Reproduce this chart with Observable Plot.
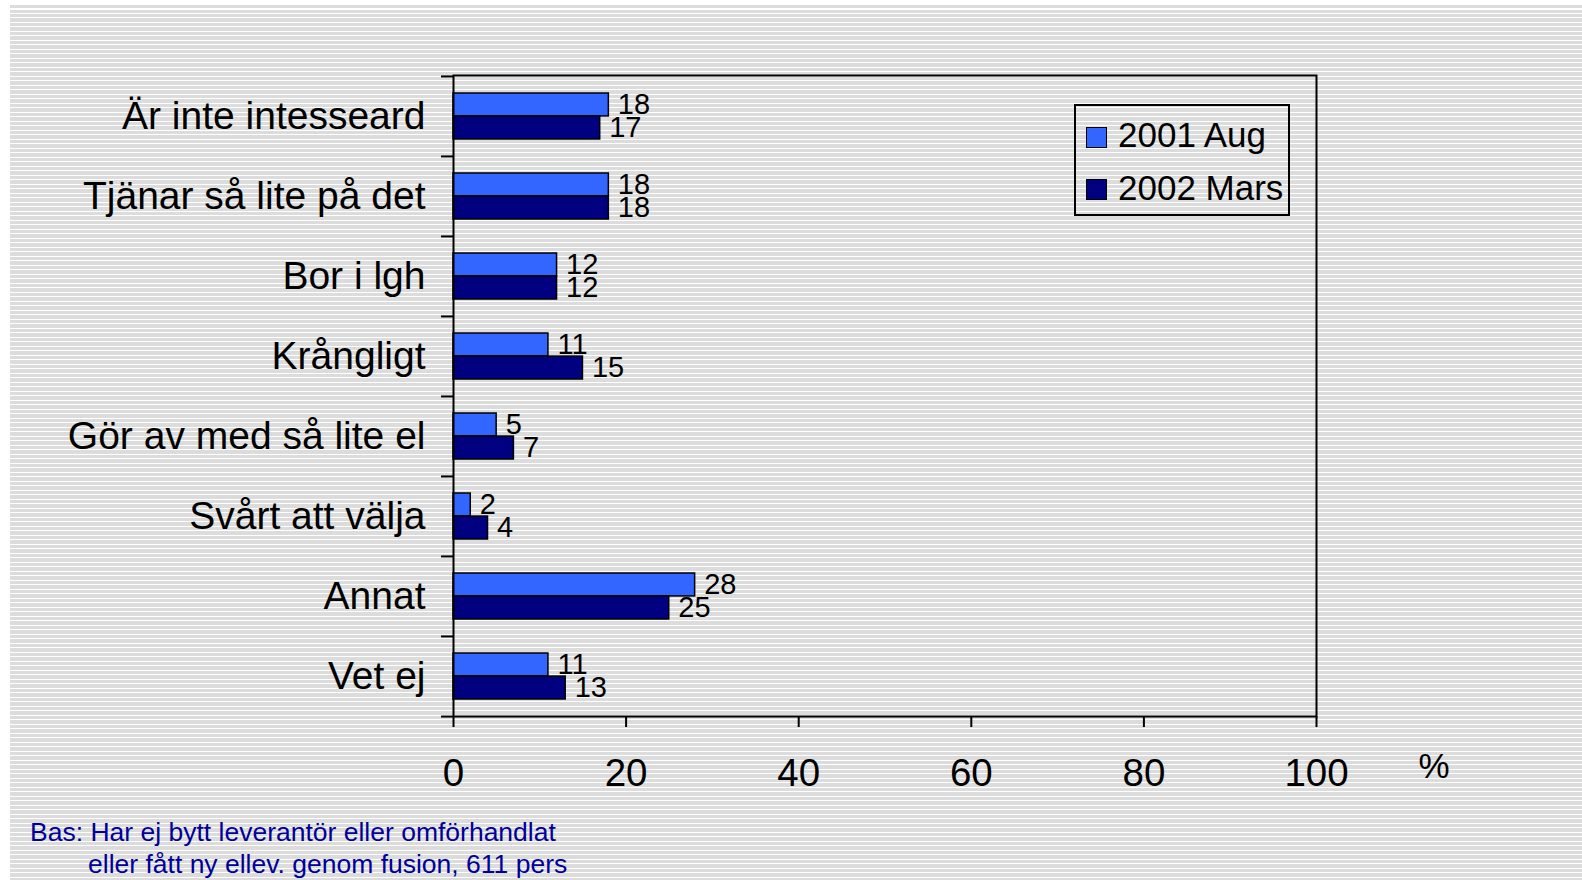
<!DOCTYPE html>
<html>
<head>
<meta charset="utf-8">
<script src="https://cdn.jsdelivr.net/npm/d3@7"></script>
<script src="https://cdn.jsdelivr.net/npm/@observablehq/plot@0.6"></script>
<style>
  html, body { margin: 0; padding: 0; background: #ffffff; }
  body { width: 1582px; height: 880px; position: relative; overflow: hidden;
         font-family: "Liberation Sans", Arial, sans-serif; }
  #stripes { position: absolute; left: 10px; top: 5px; right: 0; bottom: 0;
             background: repeating-linear-gradient(to bottom, #dcdcdc 0px, #dcdcdc 3.3px, #ffffff 3.3px, #ffffff 4.5px); }
  #chart { position: absolute; left: 0; top: 0; }
  #legend { position: absolute; left: 1074px; top: 104px; width: 216px; height: 112px;
            border: 2px solid #000; box-sizing: border-box; }
  .sw { position: absolute; width: 21px; height: 21px; border: 1.5px solid #000; box-sizing: border-box; }
  .lt { position: absolute; font-size: 35px; line-height: 1; color: #000; white-space: nowrap; }
  .note { position: absolute; font-size: 26.5px; line-height: 1; color: #000099; white-space: nowrap; }
</style>
</head>
<body>
<div id="stripes"></div>
<div id="chart"></div>
<div id="legend"></div>
<div class="note" id="note1" style="left:30px; top:819px;"></div>
<div class="note" id="note2" style="left:88px; top:851px;"></div>
<script>
// ---- data ----
const categories = ["Är inte intesseard", "Tjänar så lite på det", "Bor i lgh", "Krångligt",
                    "Gör av med så lite el", "Svårt att välja", "Annat", "Vet ej"];
const series = ["2001 Aug", "2002 Mars"];
const aug2001 = [18, 18, 12, 11, 5, 2, 28, 11];
const mars2002 = [17, 18, 12, 15, 7, 4, 25, 13];
const xTicks = [0, 20, 40, 60, 80, 100];
const seriesColors = ["#3366ff", "#000080"];
const unitLabel = "%";
const noteLines = ["Bas: Har ej bytt leverantör eller omförhandlat",
                   "eller fått ny ellev. genom fusion, 611 pers"];

const data = categories.flatMap((c, i) => [
  {category: c, series: series[0], value: aug2001[i]},
  {category: c, series: series[1], value: mars2002[i]}
]);

// ---- layout ----
const W = 1582, H = 880;
const mL = 453, mR = 266, mT = 75, mB = 164;
const bw = (H - mT - mB) / categories.length;
const pad = 17;
const barH = (bw - 2 * pad) / 2;
const font = "'Liberation Sans', Arial, sans-serif";

const s0 = data.filter(d => d.series === series[0]);
const s1 = data.filter(d => d.series === series[1]);

const chart = Plot.plot({
  width: W,
  height: H,
  marginLeft: mL,
  marginRight: mR,
  marginTop: mT,
  marginBottom: mB,
  style: `background: transparent; font-family: ${font}; color: #000; overflow: visible;`,
  x: {domain: [0, 100]},
  y: {domain: categories, type: "band", padding: 0},
  color: {domain: series, range: seriesColors},
  marks: [
    Plot.barX(s0, {x: "value", y: "category", fill: "series", stroke: "#000", strokeWidth: 1.5,
                   insetTop: pad, insetBottom: bw - pad - barH}),
    Plot.barX(s1, {x: "value", y: "category", fill: "series", stroke: "#000", strokeWidth: 1.5,
                   insetTop: pad + barH, insetBottom: pad}),
    Plot.text(s0, {x: "value", y: "category", text: d => String(d.value), textAnchor: "start",
                   dx: 9, dy: -barH / 2, fontSize: 29, fill: "#000"}),
    Plot.text(s1, {x: "value", y: "category", text: d => String(d.value), textAnchor: "start",
                   dx: 9, dy: barH / 2, fontSize: 29, fill: "#000"}),
    Plot.frame({stroke: "#000", strokeWidth: 2}),
    // category labels
    Plot.axisY({tickSize: 0, tickPadding: 28, fontSize: 39, label: null}),
    // boundary ticks between categories
    Plot.axisY(categories, {tickSize: 12, strokeWidth: 2, fill: "none", label: null, dy: -bw / 2}),
    Plot.axisY([categories[categories.length - 1]], {tickSize: 12, strokeWidth: 2, fill: "none", label: null, dy: bw / 2}),
    // x axis
    Plot.axisX(xTicks, {tickSize: 11, tickPadding: 31, strokeWidth: 2, fontSize: 38.5, label: null}),
    Plot.text([unitLabel], {frameAnchor: "bottom-right", dx: 133, dy: 61, fontSize: 35, fill: "#000", text: d => d})
  ]
});
document.getElementById("chart").appendChild(chart);

// ---- legend ----
const legend = document.getElementById("legend");
series.forEach((s, i) => {
  const sw = document.createElement("div");
  sw.className = "sw";
  sw.style.left = (1084 - 1074) + "px";
  sw.style.top = (125 - 104 + i * 52) + "px";
  sw.style.background = seriesColors[i];
  legend.appendChild(sw);
  const t = document.createElement("div");
  t.className = "lt";
  t.style.left = (1116 - 1074) + "px";
  t.style.top = (115 - 104 + i * 53) + "px";
  t.textContent = s;
  legend.appendChild(t);
});
document.getElementById("note1").textContent = noteLines[0];
document.getElementById("note2").textContent = noteLines[1];
</script>
</body>
</html>
